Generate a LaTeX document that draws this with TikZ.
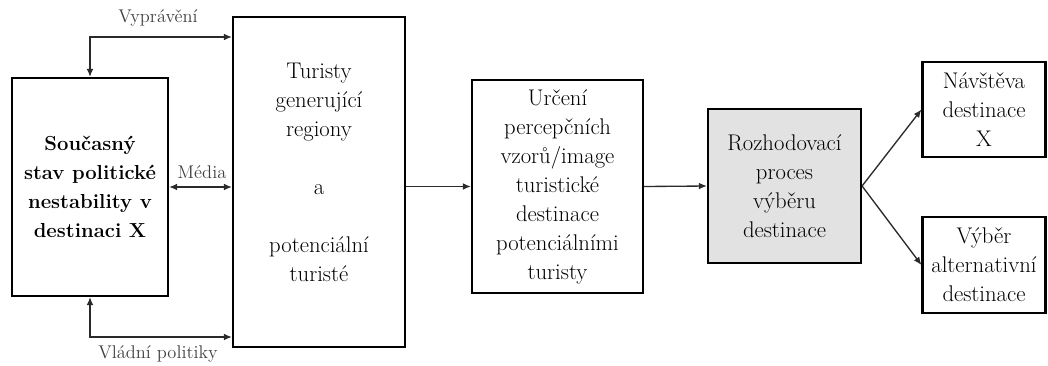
\documentclass[tikz,border=0pt]{standalone}
\usepackage{fontspec}
\usetikzlibrary{arrows.meta}
\definecolor{txt}{HTML}{000000}
\definecolor{lbl}{HTML}{404040}
\definecolor{ln}{HTML}{2A2A2A}
\definecolor{fillg}{HTML}{E2E2E2}
\begin{document}
\begin{tikzpicture}[x=0.75pt,y=-0.75pt,
  box/.style={draw=black,line width=1.6pt,rectangle,inner sep=0pt,align=center,text=txt,
    font=\fontsize{17pt}{21.75pt}\selectfont},
  conn/.style={draw=ln,line width=1pt,-{Latex[length=6pt,width=5pt]}},
  biconn/.style={draw=ln,line width=1pt,{Latex[length=6pt,width=5pt]}-{Latex[length=6pt,width=5pt]}},
  lab/.style={text=lbl,font=\fontsize{13.8pt}{16pt}\selectfont,inner sep=0pt}]
\useasboundingbox (0,0) rectangle (1048,365);
\node[box,minimum width=156*0.75pt,minimum height=218*0.75pt,font=\fontsize{15.2pt}{21.75pt}\selectfont\bfseries]
  (b1) at (90,187) {Současný\\stav politické\\nestability v\\destinaci X};
\node[box,minimum width=172*0.75pt,minimum height=330*0.75pt] (b2) at (319,182) {};
\node[align=center,text=txt,font=\fontsize{17pt}{21.75pt}\selectfont,inner sep=0pt] (b2t) at (319,172)
  {Turisty\\generující\\regiony\\[21.75pt]a\\[21.75pt]potenciální\\turisté};
\node[box,minimum width=171*0.75pt,minimum height=213*0.75pt] (b3) at (557.5,186.5)
  {Určení\\percepčních\\vzorů/image\\turistické\\destinace\\potenciálními\\turisty};
\node[box,fill=fillg,minimum width=153*0.75pt,minimum height=154*0.75pt] (b4) at (784.5,186)
  {Rozhodovací\\proces\\výběru\\destinace};
\node[box,minimum width=123*0.75pt,minimum height=95*0.75pt] (b5) at (984,109.5)
  {Návštěva\\destinace\\X};
\node[box,minimum width=123*0.75pt,minimum height=96*0.75pt] (b6) at (984,265)
  {Výběr\\alternativní\\destinace};
\coordinate (v) at (90,37);
\coordinate (w) at (90,337);
\draw[biconn] (b1.north) -- (v) -- (b2.west |- v);
\draw[biconn] (b1.east) -- (b2.west |- b1.east);
\draw[biconn] (b1.south) -- (w) -- (b2.west |- w);
\node[lab] (lv) at (158,18) {Vyprávění};
\node[lab] (lm) at (202,172) {Média};
\node[lab] (lw) at (158,354) {Vládní politiky};
\draw[conn] (b2.east |- b3.west) -- (b3.west);
\draw[conn] (b3.east) -- (b4.west);
\draw[conn] (b4.east) -- (b5.west);
\draw[conn] (b4.east) -- (b6.west);
\end{tikzpicture}
\end{document}
